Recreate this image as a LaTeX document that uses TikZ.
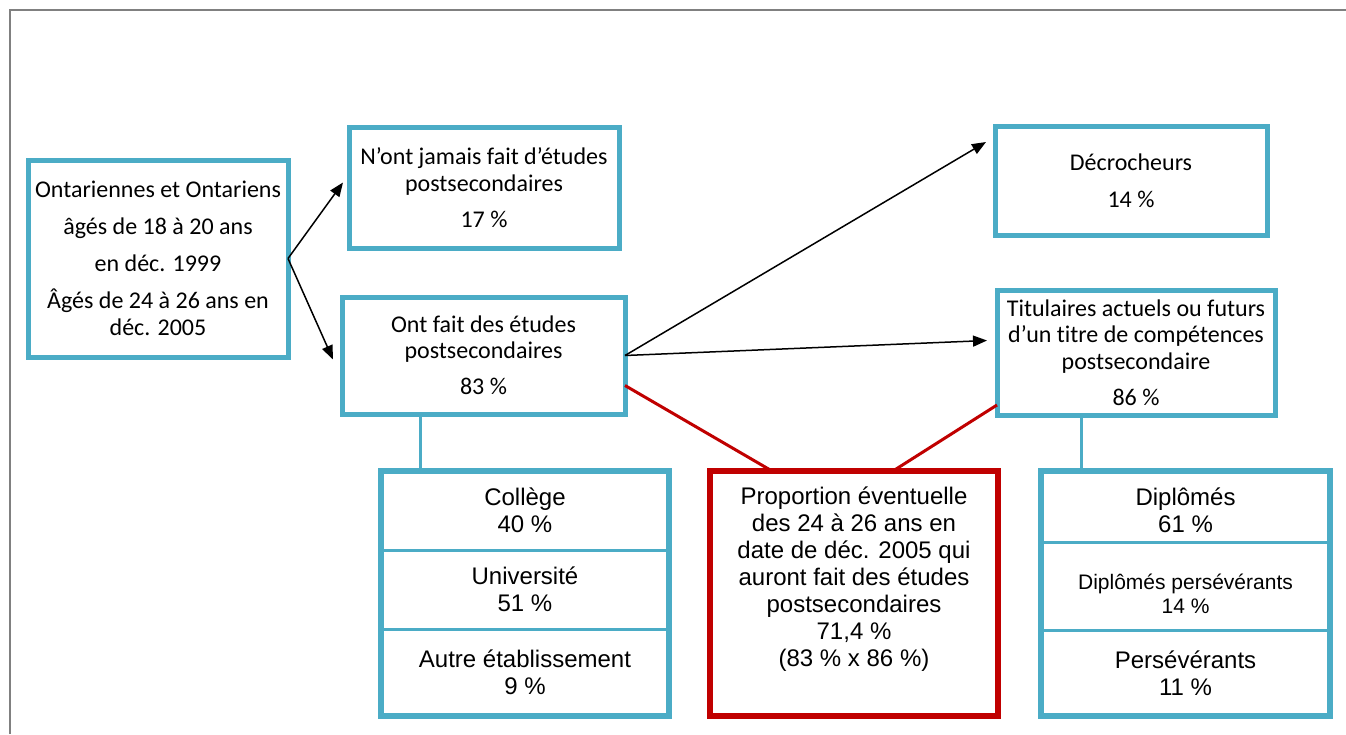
\documentclass[tikz,border=0pt]{standalone}
\usepackage{fontspec}
\setmainfont[Ligatures=NoCommon]{Carlito}
\newfontfamily\arialfont{Liberation Sans}
\usetikzlibrary{arrows.meta,positioning}

\definecolor{boxblue}{HTML}{4BACC6}
\definecolor{boxred}{HTML}{C00000}
\definecolor{framegray}{HTML}{808080}

\tikzset{
  topbox/.style={draw=boxblue, line width=5pt, align=center, inner sep=0pt, outer sep=0pt,
    font=\fontsize{24}{26.5}\selectfont},
  cell/.style={draw=boxblue, line width=3pt, align=center, inner sep=0pt, outer sep=0pt,
    font=\arialfont\fontsize{24}{27}\selectfont},
  flow/.style={-{Triangle[length=14pt,width=11pt]}, line width=1.5pt},
  redline/.style={draw=boxred, line width=3pt},
  stem/.style={draw=boxblue, line width=3pt},
}

\begin{document}
\begin{tikzpicture}[x=1pt,y=-1pt]
	\useasboundingbox (0,0) rectangle (1346,734);
	\draw [framegray, line width=2pt] (10,734)--(10,10)--(1346,10);
	% upper row
	\node [topbox, minimum width=260pt, minimum height=197pt] (A) at (158,258.5)
		{Ontariennes et Ontariens\\[10.5pt] âgés de 18 à 20 ans\\[10.5pt] en déc. 1999\\[10.5pt] Âgés de 24 à 26 ans en\\ déc. 2005};
	\node [topbox, minimum width=270pt, minimum height=121pt] (B) at (484,187.5)
		{N’ont jamais fait d’études\\ postsecondaires\\[9.5pt] 17~\%};
	\node [topbox, minimum width=283pt, minimum height=117pt] (C) at (483.5,355.5)
		{Ont fait des études\\ postsecondaires\\[9.5pt] 83~\%};
	\node [topbox, minimum width=272pt, minimum height=109pt] (D) at (1131,180.5)
		{Décrocheurs\\[10.5pt] 14~\%};
	\node [topbox, minimum width=278pt, minimum height=125pt] (E) at (1136,352.5)
		{Titulaires actuels ou futurs\\ d’un titre de compétences\\ postsecondaire\\[9.5pt] 86~\%};
	% lower stacks
	\node [cell, minimum width=288pt, minimum height=79pt] (F1) at (525,510.5) {Collège\\ 40~\%};
	\node [cell, minimum width=288pt, minimum height=79pt, below=0pt of F1] (F2) {Université\\ 51~\%};
	\node [cell, minimum width=288pt, minimum height=87pt, below=0pt of F2] (F3) {Autre établissement\\ 9~\%};
	\draw [boxblue, line width=6pt] (F1.north west) rectangle (F3.south east);
	\node [cell, minimum width=289pt, minimum height=71pt, text height=53pt] (H1) at (1185.5,506.5) {Diplômés\\ 61~\%};
	\node [cell, minimum width=289pt, minimum height=88pt, below=0pt of H1, text height=55pt,
		font=\arialfont\fontsize{21}{24}\selectfont] (H2) {Diplômés persévérants\\ 14~\%};
	\node [cell, minimum width=289pt, minimum height=86pt, below=0pt of H2] (H3) {Persévérants\\ 11~\%};
	\draw [boxblue, line width=6pt] (H1.north west) rectangle (H3.south east);
	\node [draw=boxred, line width=6pt, inner sep=0pt, outer sep=0pt,
		minimum width=288pt, minimum height=245pt] (G) at (854,593.5) {};
	\node [align=center, font=\arialfont\fontsize{24}{27}\selectfont] (Gtext) at ([yshift=14pt]G.center)
		{Proportion éventuelle\\ des 24 à 26 ans en\\ date de déc. 2005 qui\\ auront fait des études\\ postsecondaires\\ 71,4~\%\\ (83~\% x 86~\%)};
	% connectors
	\draw [flow] (A.east)--([xshift=-6pt,yshift=5pt]B.west);
	\draw [flow] (A.east)--([xshift=-9pt,yshift=-4pt]C.west);
	\draw [flow] (C.east)--([xshift=-9pt,yshift=-16pt]D.north west);
	\draw [flow] (C.east)--([xshift=-10pt,yshift=12pt]E.west);
	\draw [redline] ([yshift=-30pt]C.east)--([xshift=-82pt]G.north);
	\draw [redline] ([yshift=10pt]E.south west)--([xshift=39pt]G.north);
	\draw [stem] ([xshift=78pt]C.south west)--([xshift=78pt]C.south west |- F1.north);
	\draw [stem] ([xshift=84pt]E.south west)--([xshift=84pt]E.south west |- H1.north);
\end{tikzpicture}
\end{document}
